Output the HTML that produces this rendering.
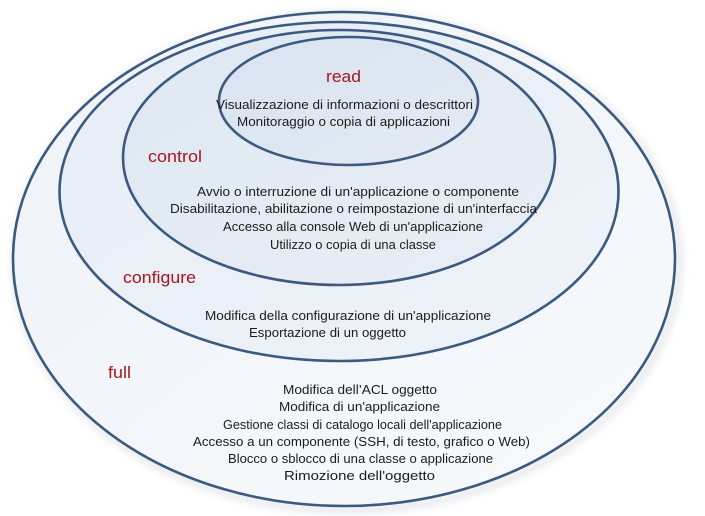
<!DOCTYPE html>
<html>
<head>
<meta charset="utf-8">
<style>
  html, body { margin:0; padding:0; background:#ffffff; }
  body { width:705px; height:516px; overflow:hidden; }
  svg { display:block; }
  .t { font-family:"Liberation Sans", sans-serif; font-size:12.5px; fill:#1c1c1c; }
  .h { font-family:"Liberation Sans", sans-serif; font-size:17px; fill:#a8161f; }
</style>
</head>
<body>
<svg width="705" height="516" viewBox="0 0 705 516" xmlns="http://www.w3.org/2000/svg">
  <defs>
    <filter id="blur" x="-10%" y="-10%" width="120%" height="120%">
      <feGaussianBlur stdDeviation="4"/>
    </filter>
    <linearGradient id="gFull" x1="0" y1="0" x2="1" y2="1">
      <stop offset="0" stop-color="#eef3f8"/>
      <stop offset="1" stop-color="#f7f9fc"/>
    </linearGradient>
    <linearGradient id="gConf" x1="0" y1="0" x2="1" y2="1">
      <stop offset="0" stop-color="#e6edf5"/>
      <stop offset="1" stop-color="#eef3f8"/>
    </linearGradient>
    <linearGradient id="gCtrl" x1="0" y1="0" x2="1" y2="1">
      <stop offset="0" stop-color="#dee7f1"/>
      <stop offset="1" stop-color="#e8eef5"/>
    </linearGradient>
    <linearGradient id="gRead" x1="0" y1="0" x2="1" y2="1">
      <stop offset="0" stop-color="#d9e3ef"/>
      <stop offset="1" stop-color="#e3eaf3"/>
    </linearGradient>
  </defs>

  <!-- soft shadow -->
  <ellipse cx="347" cy="262" rx="332" ry="248" fill="none" stroke="#d8dde3" stroke-width="6" filter="url(#blur)" opacity="0.8"/>

  <!-- full -->
  <ellipse cx="344" cy="259" rx="331" ry="247" fill="url(#gFull)" stroke="#3b5a80" stroke-width="2.6"/>
  <!-- configure -->
  <ellipse cx="339" cy="191.5" rx="279.5" ry="169.5" fill="url(#gConf)" stroke="#3b5a80" stroke-width="2.6"/>
  <!-- control -->
  <ellipse cx="339" cy="157.5" rx="216" ry="127.5" fill="url(#gCtrl)" stroke="#3b5a80" stroke-width="2.6"/>
  <!-- read -->
  <ellipse cx="348.5" cy="101" rx="129.5" ry="64" fill="url(#gRead)" stroke="#3b5a80" stroke-width="2.6"/>

  <!-- labels -->
  <text class="h" x="326" y="82" textLength="35" lengthAdjust="spacingAndGlyphs">read</text>
  <text class="h" x="148" y="162" textLength="54" lengthAdjust="spacingAndGlyphs">control</text>
  <text class="h" x="123" y="283" textLength="73" lengthAdjust="spacingAndGlyphs">configure</text>
  <text class="h" x="108" y="378" textLength="23" lengthAdjust="spacingAndGlyphs">full</text>

  <!-- read text -->
  <text class="t" x="216" y="109" textLength="257" lengthAdjust="spacingAndGlyphs">Visualizzazione di informazioni o descrittori</text>
  <text class="t" x="237" y="126" textLength="213" lengthAdjust="spacingAndGlyphs">Monitoraggio o copia di applicazioni</text>

  <!-- control text -->
  <text class="t" x="197" y="196" textLength="322" lengthAdjust="spacingAndGlyphs">Avvio o interruzione di un'applicazione o componente</text>
  <text class="t" x="170" y="213" textLength="367" lengthAdjust="spacingAndGlyphs">Disabilitazione, abilitazione o reimpostazione di un'interfaccia</text>
  <text class="t" x="223" y="231" textLength="260" lengthAdjust="spacingAndGlyphs">Accesso alla console Web di un'applicazione</text>
  <text class="t" x="270" y="249" textLength="166" lengthAdjust="spacingAndGlyphs">Utilizzo o copia di una classe</text>

  <!-- configure text -->
  <text class="t" x="205" y="320" textLength="286" lengthAdjust="spacingAndGlyphs">Modifica della configurazione di un'applicazione</text>
  <text class="t" x="249" y="337" textLength="157" lengthAdjust="spacingAndGlyphs">Esportazione di un oggetto</text>

  <!-- full text -->
  <text class="t" x="283" y="394" textLength="154" lengthAdjust="spacingAndGlyphs">Modifica dell’ACL oggetto</text>
  <text class="t" x="279" y="411" textLength="161" lengthAdjust="spacingAndGlyphs">Modifica di un'applicazione</text>
  <text class="t" x="223" y="429" textLength="279" lengthAdjust="spacingAndGlyphs">Gestione classi di catalogo locali dell'applicazione</text>
  <text class="t" x="193" y="446" textLength="337" lengthAdjust="spacingAndGlyphs">Accesso a un componente (SSH, di testo, grafico o Web)</text>
  <text class="t" x="228" y="463" textLength="265" lengthAdjust="spacingAndGlyphs">Blocco o sblocco di una classe o applicazione</text>
  <text class="t" x="284" y="480" textLength="151" lengthAdjust="spacingAndGlyphs">Rimozione dell'oggetto</text>
</svg>
</body>
</html>
